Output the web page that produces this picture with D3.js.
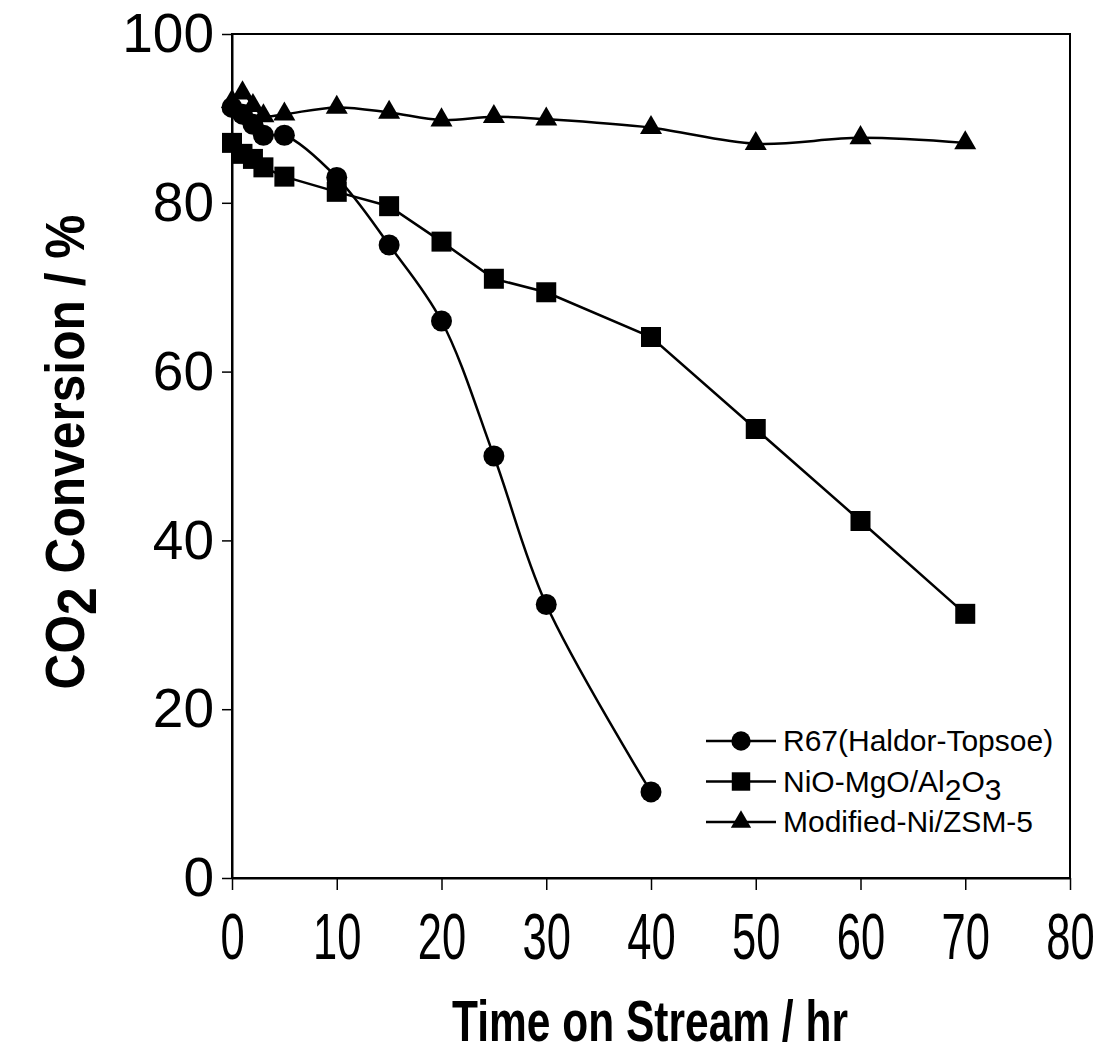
<!DOCTYPE html>
<html>
<head>
<meta charset="utf-8">
<script src="https://cdn.jsdelivr.net/npm/d3@7"></script>
<style>
  body { margin: 0; background: #fff; }
  svg { display: block; font-family: "Liberation Sans", Arial, sans-serif; }
</style>
</head>
<body>
<svg id="chart" width="1106" height="1059"></svg>
<script>
'use strict'

// time on stream (hr) and CO2 conversion (%) per catalyst
const hoursR67 = [0, 1, 2, 3, 5, 10, 15, 20, 25, 30, 40]
const convR67  = [91.3, 90.5, 89.3, 88, 88, 83, 75, 66, 50, 32.4, 10.2]

const hoursNiO = [0, 1, 2, 3, 5, 10, 15, 20, 25, 30, 40, 50, 60, 70]
const convNiO  = [87.1, 85.8, 85.2, 84.2, 83.1, 81.3, 79.6, 75.4, 71, 69.4, 64.1, 53.2, 42.3, 31.3]

const hoursMod = [0, 1, 2, 3, 5, 10, 15, 20, 25, 30, 40, 50, 60, 70]
const convMod  = [92, 93, 91.5, 90.3, 90.5, 91.3, 90.7, 89.8, 90.2, 89.9, 88.9, 87, 87.7, 87.1]

const xTicks = [0, 10, 20, 30, 40, 50, 60, 70, 80]
const yTicks = [0, 20, 40, 60, 80, 100]

const seriesNames = ["R67(Haldor-Topsoe)", "NiO-MgO/Al2O3", "Modified-Ni/ZSM-5"]

const zip = (xs, ys) => xs.map((x, i) => ({x, y: ys[i]}))

const series = [
  {name: seriesNames[0], data: zip(hoursR67, convR67), symbol: d3.symbolCircle, size: 346, curve: d3.curveCatmullRom.alpha(0.5)},
  {name: seriesNames[1], data: zip(hoursNiO, convNiO), symbol: d3.symbolSquare, size: 400, curve: d3.curveLinear},
  {name: seriesNames[2], data: zip(hoursMod, convMod), symbol: d3.symbolTriangle, size: 210, curve: d3.curveCatmullRom.alpha(0.5)}
]

const plot = {left: 232, top: 34, right: 1070, bottom: 878}

const x = d3.scaleLinear().domain([0, 80]).range([plot.left, plot.right])
const y = d3.scaleLinear().domain([0, 100]).range([plot.bottom, plot.top])

const svg = d3.select("#chart")

// frame
svg.append("rect")
  .attr("x", plot.left).attr("y", plot.top)
  .attr("width", plot.right - plot.left).attr("height", plot.bottom - plot.top)
  .attr("fill", "none").attr("stroke", "#000").attr("stroke-width", 2)

// x axis, labels drawn condensed like the original
const xAxis = svg.append("g")
  .attr("transform", `translate(0,${plot.bottom})`)
  .call(d3.axisBottom(x).tickValues(xTicks).tickSize(12).tickPadding(24).tickSizeOuter(0))
xAxis.select(".domain").attr("stroke-width", 2)
xAxis.selectAll(".tick line").attr("stroke-width", 1.5)
xAxis.selectAll(".tick text")
  .attr("font-size", 64).attr("font-family", "Liberation Sans, Arial, sans-serif")
  .attr("fill", "#000")
  .attr("transform", "scale(0.68,1)")

// y axis
const yAxis = svg.append("g")
  .attr("transform", `translate(${plot.left},0)`)
  .call(d3.axisLeft(y).tickValues(yTicks).tickSize(10).tickPadding(8).tickSizeOuter(0))
yAxis.select(".domain").attr("stroke-width", 2)
yAxis.selectAll(".tick line").attr("stroke-width", 1.5)
yAxis.selectAll(".tick text")
  .attr("font-size", 55).attr("font-family", "Liberation Sans, Arial, sans-serif")
  .attr("fill", "#000")

// lines and markers
series.forEach(s => {
  const line = d3.line().x(d => x(d.x)).y(d => y(d.y)).curve(s.curve)
  svg.append("path")
    .datum(s.data)
    .attr("d", line)
    .attr("fill", "none").attr("stroke", "#000").attr("stroke-width", 2.5)

  svg.append("g").selectAll("path")
    .data(s.data)
    .join("path")
    .attr("transform", d => `translate(${x(d.x)},${y(d.y)})`)
    .attr("d", d3.symbol(s.symbol, s.size))
    .attr("fill", "#000")
})

// legend
const legend = svg.append("g").attr("transform", "translate(706,741)")
series.forEach((s, i) => {
  const row = legend.append("g").attr("transform", `translate(0,${i * 40.5})`)
  row.append("line").attr("x1", 0).attr("x2", 70).attr("y1", 0).attr("y2", 0)
    .attr("stroke", "#000").attr("stroke-width", 2.5)
  row.append("path").attr("transform", "translate(35,0)")
    .attr("d", d3.symbol(s.symbol, s.size * 0.85)).attr("fill", "#000")
  const t = row.append("text").attr("x", 77).attr("y", 10)
    .attr("font-size", 30).attr("fill", "#000")
  if (i === 1) {
    t.append("tspan").text("NiO-MgO/Al")
    t.append("tspan").attr("dy", 8).text("2")
    t.append("tspan").attr("dy", -8).text("O")
    t.append("tspan").attr("dy", 8).text("3")
  } else {
    t.text(s.name)
  }
})

// axis titles
const yTitle = svg.append("text")
  .attr("transform", "translate(84,452) rotate(-90)")
  .attr("text-anchor", "middle")
  .attr("font-size", 55).attr("font-weight", "bold").attr("fill", "#000")
  .attr("textLength", 475).attr("lengthAdjust", "spacingAndGlyphs")
yTitle.append("tspan").text("CO")
yTitle.append("tspan").attr("dy", 12).text("2")
yTitle.append("tspan").attr("dy", -12).text(" Conversion / %")

svg.append("text")
  .attr("x", 650).attr("y", 1041)
  .attr("text-anchor", "middle")
  .attr("font-size", 58).attr("font-weight", "bold").attr("fill", "#000")
  .attr("textLength", 396).attr("lengthAdjust", "spacingAndGlyphs")
  .text("Time on Stream / hr")
</script>
</body>
</html>
